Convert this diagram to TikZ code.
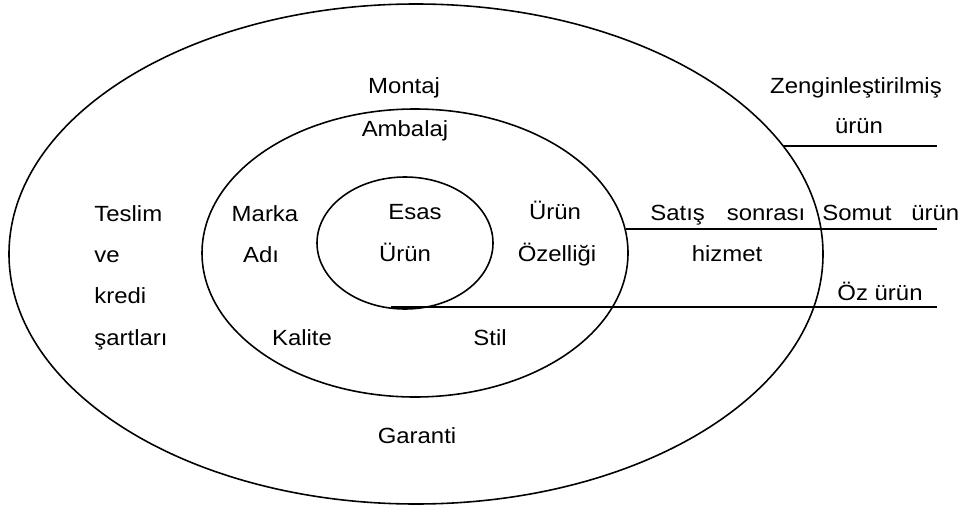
\documentclass[tikz,border=0pt]{standalone}
\usepackage{fontspec}
\setmainfont{Liberation Sans}[FakeStretch=1.09]
\begin{document}
\begin{tikzpicture}[x=0.02cm,y=-0.02cm,
  ring/.style={line width=0.9pt},
  level/.style={line width=1.2pt},
  lbl/.style={inner sep=0pt, anchor=base, font=\fontsize{12.5}{14}\selectfont},
  lblw/.style={lbl, anchor=base west}]
\useasboundingbox (0,0) rectangle (969,510);

% three product levels
\coordinate (outerC) at (416,254);
\coordinate (midC)   at (415,253);
\coordinate (innerC) at (405,243);
\draw[ring] (outerC) ellipse [x radius=407, y radius=250];
\draw[ring] (midC)   ellipse [x radius=213, y radius=144];
\draw[ring] (innerC) ellipse [x radius=88,  y radius=66];

% level marker lines
\coordinate (zenA) at (783,146); \coordinate (zenB) at (937,146);
\coordinate (somA) at (626,229); \coordinate (somB) at (937,229);
\coordinate (ozA)  at (391,307); \coordinate (ozB)  at (937,307);
\draw[level] (zenA) -- (zenB);
\draw[level] (somA) -- (somB);
\draw[level] (ozA)  -- (ozB);

% outer ring
\node[lbl]  (montaj)  at (404,93)  {Montaj};
\node[lblw] (teslim)  at (94,221)  {Teslim};
\node[lblw] (ve)      at (94,262)  {ve};
\node[lblw] (kredi)   at (94,303)  {kredi};
\node[lblw] (sartlar) at (94,345)  {şartları};
\node[lbl]  (garanti) at (417,443) {Garanti};
\node[lblw] (satis)   at (650,220) {Satış\hspace{1.0em}sonrası};
\node[lbl]  (hizmet)  at (727,261) {hizmet};

% middle ring
\node[lbl]  (ambalaj) at (405,136) {Ambalaj};
\node[lbl]  (marka)   at (265,221) {Marka};
\node[lbl]  (adi)     at (261,262) {Adı};
\node[lbl]  (urunR)   at (555,219) {Ürün};
\node[lbl]  (ozellik) at (557,261) {Özelliği};
\node[lbl]  (kalite)  at (302,345) {Kalite};
\node[lbl]  (stil)    at (490,345) {Stil};

% core
\node[lbl]  (esas)    at (415,219) {Esas};
\node[lbl]  (urunC)   at (405,261) {Ürün};

% level names
\node[lbl]  (zengin)  at (856,93)  {Zenginleştirilmiş};
\node[lbl]  (zenurun) at (859,133) {ürün};
\node[lblw] (somut)   at (822,220) {Somut\hspace{0.9em}ürün};
\node[lbl]  (ozurun)  at (880,300) {Öz ürün};
\end{tikzpicture}
\end{document}
